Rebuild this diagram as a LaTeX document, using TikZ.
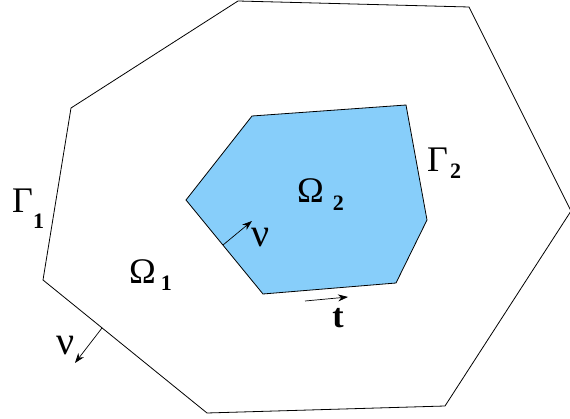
\documentclass[tikz,border=0pt]{standalone}
\usepackage{fontspec}
\setmainfont{Liberation Serif}
\usetikzlibrary{arrows.meta}
\definecolor{InnerBlue}{HTML}{87CEFA}
\newcommand{\lowsub}[2]{\raisebox{-#1}{\fontsize{22}{22}\selectfont\bfseries #2}}

\begin{document}
\begin{tikzpicture}[x=1pt,y=-1pt, every node/.style={inner sep=0pt,font=\fontsize{36}{36}\selectfont},
  edge/.style={line width=0.8pt}, vec/.style={-{Stealth[length=10pt,width=7pt]},line width=0.7pt}]
  \useasboundingbox (0,0) rectangle (570,419);
  % outer and inner domain
  \draw[edge] (238,1) -- (469,7) -- (571,211) -- (445,406) -- (207,413) -- (43,280) -- (71,108) -- cycle;
  \draw[edge,fill=InnerBlue] (252,116) -- (406,105) -- (427,220) -- (396,283) -- (263,294) -- (186,200) -- cycle;
  % labels
  \node[anchor=base west] (gamma1) at (12,213) {Γ\lowsub{16pt}{1}};
  \node[anchor=base west] (gamma2) at (427,172) {Γ\hspace{2pt}\lowsub{7pt}{2}};
  \node[anchor=base west] (omega2) at (297,203) {Ω\hspace{9pt}\lowsub{8pt}{2}};
  \node[anchor=base west] (omega1) at (129,284) {Ω\hspace{5pt}\lowsub{7pt}{1}};
  \node[font=\fontsize{40}{40}\selectfont] (nuin) at (261,238) {ν};
  \node[font=\fontsize{40}{40}\selectfont] (nuout) at (66,346) {ν};
  \node[font=\fontsize{34}{34}\selectfont\bfseries] (tang) at (338,318) {t};
  % normal and tangent vectors
  \coordinate (nuinA) at (223,245);
  \coordinate (nuinB) at (252,221);
  \coordinate (nuoutA) at (102,328);
  \coordinate (nuoutB) at (75,363);
  \coordinate (tangA) at (305,301);
  \coordinate (tangB) at (348,297);
  \foreach \a/\b in {nuinA/nuinB,nuoutA/nuoutB,tangA/tangB}{\draw[vec] (\a)--(\b);}
\end{tikzpicture}
\end{document}
